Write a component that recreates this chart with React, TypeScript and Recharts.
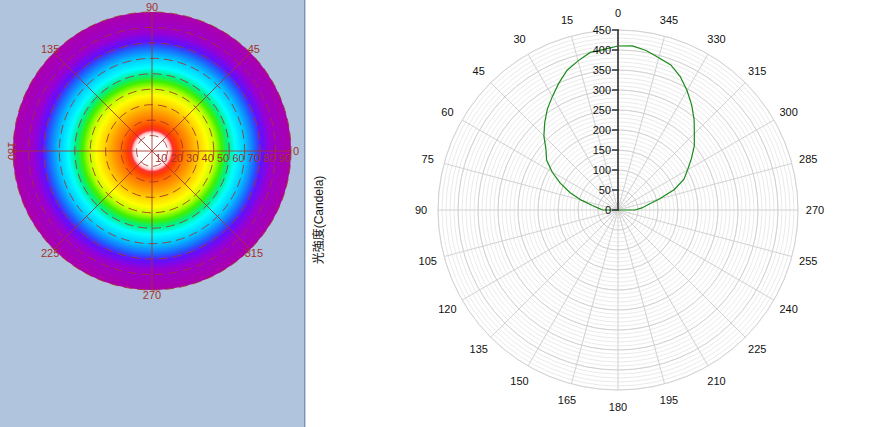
import React from 'react';
import {
  RadarChart,
  Radar,
  PolarGrid,
  PolarAngleAxis,
  PolarRadiusAxis,
  PieChart,
  Pie,
  Cell,
} from 'recharts';

// light distribution curve, C0-C180 plane (angle in deg, intensity in cd)
const curveAngles = [
  270, 275, 280, 285, 290, 295, 300, 305, 310, 315, 320, 325, 330, 335, 340, 345, 350, 355,
  0, 5, 10, 15, 20, 25, 30, 35, 40, 45, 50, 55, 60, 65, 70, 75, 80, 85, 90,
];
const candela = [
  42, 60, 76, 108, 150, 182, 201, 224, 249, 270, 296, 321, 345, 368, 386, 394, 405, 412,
  410, 403, 400, 386, 372, 350, 328, 308, 285, 262, 235, 218, 190, 160, 128, 95, 65, 48, 38,
];

// polar plot ticks
const angleTicks = [0, 15, 30, 45, 60, 75, 90, 105, 120, 135, 150, 165, 180, 195, 210, 225, 240, 255, 270, 285, 300, 315, 330, 345];
const candelaTicks = [0, 50, 100, 150, 200, 250, 300, 350, 400, 450];
const candelaMinor = Array.from({ length: 46 }, (_, i) => i * 10);

// iso-candela map (left panel)
const isoAngleTicks = [0, 45, 90, 135, 180, 225, 270, 315];
const isoThetaTicks = [10, 20, 30, 40, 50, 60, 70, 80, 90];
// beam angle (deg) where each colour level is reached
const isoLevelTheta = [0, 10, 12, 13.5, 16, 20, 25, 30, 36, 41, 45, 49, 54, 61, 67, 71, 77, 90];
const isoLevelColor = [
  '#ffffff', '#ffffff', '#ffc8c8', '#ff3030', '#ff4000', '#ff7000', '#ff9c00', '#ffcc00', '#ffff00',
  '#b8ff00', '#40f000', '#00f080', '#00ffff', '#00c0ff', '#1e60ff', '#6010ff', '#9a00d0', '#ab00ab',
];

const lightData = curveAngles
  .map((a, i) => ({ angle: a, cd: candela[i] as number | null }))
  .concat([{ angle: 180, cd: null }]);

const isoData = [{ angle: 0, theta: 0 }, { angle: 180, theta: 90 }];

const FONT = '"Liberation Sans", Arial, "Noto Sans CJK JP", sans-serif';
const RED = '#a3322b';

const AngleTick = (props: any) => {
  const { x, y, payload } = props;
  return (
    <text x={x} y={y} textAnchor="middle" dominantBaseline="central" fontSize={11} fontFamily={FONT} fill="#111">
      {payload.value}
    </text>
  );
};

const CandelaTick = (props: any) => {
  const { x, y, payload } = props;
  return (
    <g>
      <line x1={x - 6} y1={y} x2={x + 1} y2={y} stroke="#333" strokeWidth={1.5} />
      <text x={x - 7} y={y} textAnchor="end" dominantBaseline="central" fontSize={11} fontFamily={FONT} fill="#111">
        {payload.value}
      </text>
    </g>
  );
};

const IsoAngleTick = (props: any) => {
  const { x, y, payload } = props;
  const rot = payload.value === 180 ? `rotate(90, ${x + 4}, ${y})` : undefined;
  return (
    <text
      x={payload.value === 180 ? x + 4 : x}
      y={y}
      transform={rot}
      textAnchor="middle"
      dominantBaseline="central"
      fontSize={11}
      fontFamily={FONT}
      fill={RED}
    >
      {payload.value}
    </text>
  );
};

const IsoThetaTick = (props: any) => {
  const { x, y, payload } = props;
  return (
    <text x={x} y={y + 7} textAnchor="end" dominantBaseline="central" fontSize={11} fontFamily={FONT} fill={RED}>
      {payload.value}
    </text>
  );
};

export default function App() {
  return (
    <div style={{ position: 'absolute', left: 0, top: 0, width: 884, height: 427, background: '#fff', overflow: 'hidden' }}>
      <svg width={0} height={0} style={{ position: 'absolute' }}>
        <defs>
          <radialGradient id="isoHeat" cx="50%" cy="50%" r="50%">
            {isoLevelTheta.map((t, i) => (
              <stop key={i} offset={`${(t / 90) * 100}%`} stopColor={isoLevelColor[i]} />
            ))}
          </radialGradient>
        </defs>
      </svg>

      {/* left panel: iso-candela map */}
      <div style={{ position: 'absolute', left: 0, top: 0, width: 304, height: 427, background: '#b0c4de' }} />
      <div style={{ position: 'absolute', left: 304, top: 0, width: 1, height: 427, background: '#7f90b0' }} />
      <div style={{ position: 'absolute', left: 305, top: 0, width: 1, height: 427, background: '#c4d2e6' }} />

      <div style={{ position: 'absolute', left: 0, top: 0 }}>
        <PieChart width={304} height={427} margin={{ top: 0, right: 0, bottom: 0, left: 0 }}>
          <Pie
            data={[{ name: 'map', v: 1 }]}
            dataKey="v"
            cx={152}
            cy={151}
            innerRadius={0}
            outerRadius={139}
            stroke="none"
            isAnimationActive={false}
          >
            <Cell fill="url(#isoHeat)" />
          </Pie>
        </PieChart>
      </div>
      <div style={{ position: 'absolute', left: 0, top: 0 }}>
        <RadarChart
          width={304}
          height={427}
          cx={152}
          cy={151}
          outerRadius={139}
          startAngle={0}
          endAngle={360}
          data={isoData}
          margin={{ top: 0, right: 0, bottom: 0, left: 0 }}
        >
          <PolarGrid gridType="circle" radialLines={false} stroke={RED} strokeOpacity={0.85} strokeDasharray="9 5" />
          <PolarGrid gridType="circle" polarRadius={[]} stroke={RED} strokeOpacity={0.85} />
          <PolarAngleAxis
            dataKey="angle"
            type="number"
            domain={[0, 360]}
            ticks={isoAngleTicks}
            tickSize={5}
            tickLine={false}
            axisLine={false}
            tick={IsoAngleTick}
          />
          <PolarRadiusAxis angle={0} domain={[0, 90]} ticks={isoThetaTicks} axisLine={false} tick={IsoThetaTick} />
          <Radar dataKey="theta" stroke="none" fill="none" dot={false} isAnimationActive={false} />
        </RadarChart>
      </div>

      {/* right panel: polar intensity curve */}
      <svg width={40} height={427} style={{ position: 'absolute', left: 300, top: 0 }}>
        <text
          x={19}
          y={220}
          transform="rotate(-90, 19, 220)"
          textAnchor="middle"
          dominantBaseline="central"
          fontSize={12}
          fontFamily={FONT}
          fill="#111"
        >
          光強度(Candela)
        </text>
      </svg>
      <div style={{ position: 'absolute', left: 306, top: 0 }}>
        <RadarChart
          width={578}
          height={427}
          cx={312}
          cy={210}
          outerRadius={180}
          startAngle={90}
          endAngle={450}
          data={lightData}
          margin={{ top: 0, right: 0, bottom: 0, left: 0 }}
        >
          <PolarGrid radiusAxisId="minor" gridType="circle" radialLines={false} stroke="#ebebeb" />
          <PolarGrid gridType="circle" stroke="#d2d2d2" />
          <PolarAngleAxis
            dataKey="angle"
            type="number"
            domain={[0, 360]}
            ticks={angleTicks}
            tickSize={17}
            tickLine={false}
            axisLine={false}
            tick={AngleTick}
          />
          <PolarRadiusAxis radiusAxisId="minor" angle={90} domain={[0, 450]} ticks={candelaMinor} tick={false} axisLine={false} />
          <PolarRadiusAxis
            angle={90}
            domain={[0, 450]}
            ticks={candelaTicks}
            axisLine={{ stroke: '#555', strokeWidth: 2 }}
            tick={CandelaTick}
          />
          <Radar
            radiusAxisId="minor"
            dataKey="cd"
            stroke="none"
            fill="none"
            dot={false}
            isAnimationActive={false}
          />
          <Radar
            dataKey="cd"
            stroke="#1a8a1a"
            strokeWidth={1.2}
            fill="none"
            fillOpacity={0}
            dot={false}
            isAnimationActive={false}
          />
        </RadarChart>
      </div>
    </div>
  );
}
